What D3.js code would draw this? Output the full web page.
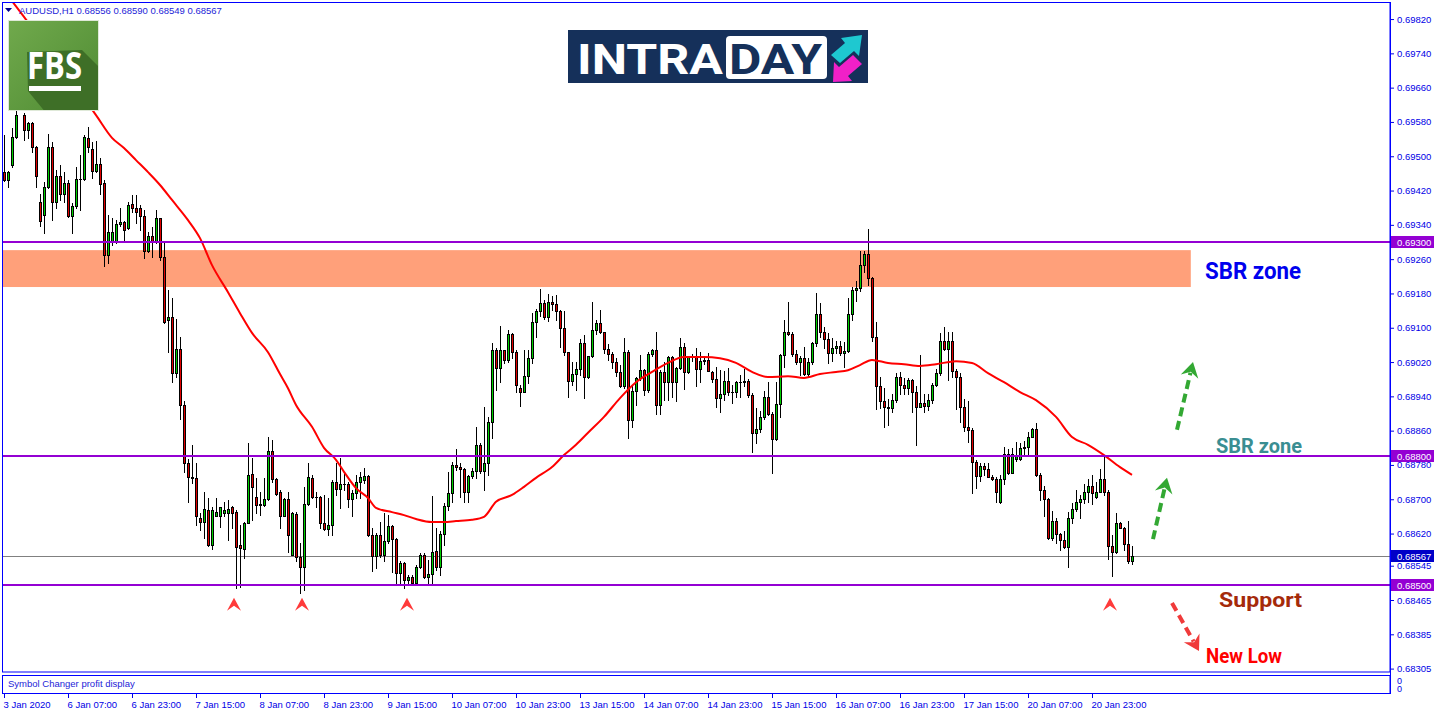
<!DOCTYPE html>
<html><head><meta charset="utf-8">
<script src="https://cdn.jsdelivr.net/npm/d3@7"></script>
<style>body{margin:0;background:#fff;}svg{display:block;}</style>
</head><body><svg id="c" width="1436" height="716"></svg>
<script>
// ---------- DATA (AUDUSD H1) ----------
const symbolTitle = "AUDUSD,H1";
const opens = [
0.69463,0.69445,0.69480,0.69544,0.69612,0.69596,0.69561,0.69577,0.69521,0.69393,
0.69363,0.69428,0.69521,0.69393,0.69454,0.69411,0.69437,0.69361,0.69384,0.69446,
0.69447,0.69542,0.69517,0.69466,0.69481,0.69437,0.69270,0.69301,0.69301,0.69342,
0.69346,0.69332,0.69388,0.69380,0.69379,0.69361,0.69278,0.69313,0.69301,0.69355,
0.69264,0.69118,0.69124,0.68994,0.69050,0.68920,0.68784,0.68753,0.68749,0.68656,
0.68648,0.68675,0.68593,0.68662,0.68662,0.68667,0.68669,0.68681,0.68671,0.68593,
0.68584,0.68645,0.68759,0.68706,0.68689,0.68687,0.68700,0.68813,0.68747,0.68716,
0.68662,0.68700,0.68570,0.68665,0.68566,0.68541,0.68688,0.68749,0.68706,0.68705,
0.68644,0.68631,0.68640,0.68741,0.68724,0.68736,0.68735,0.68700,0.68714,0.68741,
0.68745,0.68754,0.68617,0.68568,0.68617,0.68570,0.68603,0.68638,0.68607,0.68527,
0.68551,0.68512,0.68518,0.68504,0.68541,0.68570,0.68518,0.68526,0.68579,0.68541,
0.68618,0.68685,0.68714,0.68780,0.68775,0.68771,0.68716,0.68754,0.68766,0.68827,
0.68767,0.68784,0.68881,0.69048,0.69005,0.69047,0.69025,0.69086,0.69044,0.68960,
0.68951,0.68988,0.69029,0.69113,0.69139,0.69157,0.69124,0.69159,0.69156,0.69139,
0.69099,0.69044,0.68976,0.68992,0.69004,0.69064,0.68986,0.69033,0.69095,0.69110,
0.69089,0.69051,0.69038,0.69019,0.68996,0.68963,0.69043,0.68885,0.68953,0.68982,
0.69001,0.68955,0.69038,0.69047,0.68920,0.68996,0.68973,0.69031,0.68973,0.69005,
0.69054,0.68996,0.69031,0.69032,0.69003,0.69023,0.69024,0.68996,0.68980,0.68937,
0.68945,0.68976,0.68949,0.68950,0.68973,0.68974,0.68976,0.68943,0.68854,0.68864,
0.68891,0.68938,0.68898,0.68840,0.68922,0.69037,0.69089,0.69086,0.69038,0.69019,
0.69029,0.68992,0.69019,0.69064,0.69131,0.69089,0.69074,0.69042,0.69052,0.69058,
0.69040,0.69046,0.69131,0.69187,0.69192,0.69247,0.69271,0.69217,0.69079,0.68963,
0.68930,0.68914,0.68912,0.68932,0.68985,0.68967,0.68960,0.68978,0.68951,0.68916,
0.68924,0.68918,0.68932,0.68967,0.68994,0.69069,0.69051,0.69069,0.68999,0.68984,
0.68914,0.68869,0.68862,0.68788,0.68754,0.68778,0.68771,0.68753,0.68747,0.68694,
0.68747,0.68805,0.68762,0.68793,0.68794,0.68819,0.68823,0.68846,0.68863,0.68757,
0.68722,0.68700,0.68609,0.68649,0.68618,0.68604,0.68588,0.68656,0.68677,0.68693,
0.68700,0.68716,0.68731,0.68705,0.68716,0.68747,0.68718,0.68590,0.68576,0.68644,
0.68634,0.68595,0.68556];
const highs = [
0.69550,0.69466,0.69565,0.69620,0.69635,0.69600,0.69581,0.69580,0.69523,0.69411,
0.69439,0.69551,0.69534,0.69468,0.69480,0.69464,0.69445,0.69390,0.69476,0.69503,
0.69550,0.69568,0.69534,0.69536,0.69495,0.69445,0.69363,0.69355,0.69351,0.69379,
0.69349,0.69393,0.69410,0.69410,0.69386,0.69375,0.69323,0.69336,0.69375,0.69357,
0.69302,0.69188,0.69169,0.69121,0.69078,0.68928,0.68793,0.68827,0.68784,0.68667,
0.68718,0.68702,0.68683,0.68702,0.68683,0.68694,0.68698,0.68685,0.68675,0.68640,
0.68648,0.68831,0.68796,0.68749,0.68718,0.68749,0.68846,0.68838,0.68750,0.68722,
0.68702,0.68718,0.68671,0.68671,0.68597,0.68729,0.68784,0.68757,0.68718,0.68708,
0.68710,0.68702,0.68745,0.68784,0.68796,0.68761,0.68741,0.68722,0.68757,0.68764,
0.68772,0.68756,0.68634,0.68621,0.68648,0.68667,0.68663,0.68640,0.68609,0.68556,
0.68553,0.68523,0.68523,0.68547,0.68574,0.68574,0.68558,0.68708,0.68632,0.68625,
0.68691,0.68764,0.68788,0.68817,0.68784,0.68772,0.68757,0.68774,0.68869,0.68831,
0.68914,0.68893,0.69064,0.69052,0.69103,0.69048,0.69095,0.69087,0.69048,0.68967,
0.69048,0.69048,0.69134,0.69143,0.69191,0.69165,0.69178,0.69174,0.69177,0.69142,
0.69138,0.69044,0.69021,0.69021,0.69074,0.69083,0.69034,0.69159,0.69118,0.69142,
0.69091,0.69061,0.69044,0.69029,0.69013,0.69075,0.69048,0.68967,0.68986,0.69037,
0.69004,0.69044,0.69051,0.69089,0.69002,0.69021,0.69035,0.69034,0.69009,0.69075,
0.69064,0.69033,0.69038,0.69052,0.69043,0.69033,0.69042,0.68998,0.69009,0.69002,
0.68998,0.69005,0.68967,0.68976,0.68990,0.69004,0.68980,0.68947,0.68912,0.68906,
0.68953,0.68974,0.68904,0.68973,0.69038,0.69118,0.69159,0.69091,0.69048,0.69033,
0.69056,0.69029,0.69066,0.69180,0.69157,0.69101,0.69087,0.69075,0.69068,0.69068,
0.69066,0.69170,0.69194,0.69209,0.69278,0.69278,0.69330,0.69219,0.69113,0.68986,
0.68960,0.68934,0.68945,0.68994,0.68996,0.68982,0.68982,0.68980,0.68963,0.69037,
0.68945,0.68945,0.68971,0.69004,0.69087,0.69101,0.69089,0.69089,0.69004,0.68994,
0.68934,0.68929,0.68866,0.68792,0.68784,0.68784,0.68785,0.68757,0.68753,0.68757,
0.68823,0.68817,0.68819,0.68834,0.68831,0.68836,0.68856,0.68867,0.68877,0.68761,
0.68732,0.68702,0.68673,0.68656,0.68621,0.68625,0.68671,0.68691,0.68722,0.68710,
0.68735,0.68747,0.68757,0.68741,0.68771,0.68799,0.68722,0.68617,0.68667,0.68648,
0.68636,0.68649,0.68590];
const lows = [
0.69442,0.69429,0.69476,0.69542,0.69609,0.69538,0.69543,0.69509,0.69429,0.69337,
0.69320,0.69425,0.69351,0.69379,0.69398,0.69394,0.69359,0.69320,0.69379,0.69375,
0.69445,0.69511,0.69449,0.69463,0.69412,0.69243,0.69252,0.69293,0.69297,0.69338,
0.69305,0.69330,0.69369,0.69344,0.69327,0.69262,0.69276,0.69266,0.69297,0.69258,
0.69110,0.69043,0.68973,0.68986,0.68887,0.68764,0.68694,0.68737,0.68640,0.68628,
0.68609,0.68592,0.68584,0.68660,0.68636,0.68662,0.68605,0.68632,0.68492,0.68495,
0.68562,0.68644,0.68652,0.68667,0.68663,0.68685,0.68698,0.68741,0.68710,0.68632,
0.68660,0.68578,0.68569,0.68555,0.68481,0.68488,0.68687,0.68704,0.68683,0.68632,
0.68628,0.68617,0.68617,0.68710,0.68679,0.68722,0.68683,0.68660,0.68702,0.68702,
0.68737,0.68615,0.68533,0.68539,0.68566,0.68555,0.68597,0.68531,0.68500,0.68500,
0.68492,0.68504,0.68502,0.68502,0.68539,0.68516,0.68504,0.68500,0.68535,0.68523,
0.68593,0.68675,0.68694,0.68768,0.68706,0.68693,0.68693,0.68749,0.68749,0.68761,
0.68722,0.68757,0.68842,0.68955,0.68973,0.69017,0.69021,0.69029,0.68951,0.68918,
0.68951,0.68970,0.69017,0.69079,0.69128,0.69121,0.69116,0.69142,0.69118,0.69054,
0.69037,0.68939,0.68967,0.68955,0.68990,0.68937,0.68982,0.69031,0.69085,0.69087,
0.69040,0.69025,0.69005,0.68988,0.68962,0.68960,0.68842,0.68868,0.68920,0.68978,
0.68943,0.68951,0.69033,0.68898,0.68898,0.68932,0.68932,0.68939,0.68930,0.69004,
0.68957,0.68994,0.69023,0.68965,0.68974,0.69015,0.68998,0.68974,0.68914,0.68903,
0.68932,0.68943,0.68924,0.68939,0.68938,0.68963,0.68939,0.68811,0.68831,0.68856,
0.68887,0.68897,0.68762,0.68838,0.68893,0.69009,0.69083,0.69033,0.69015,0.68990,
0.68990,0.68984,0.69015,0.69058,0.69079,0.69052,0.69017,0.69023,0.69040,0.69037,
0.69009,0.69044,0.69118,0.69163,0.69186,0.69231,0.69200,0.69068,0.68911,0.68912,
0.68869,0.68873,0.68903,0.68926,0.68946,0.68945,0.68945,0.68904,0.68827,0.68914,
0.68903,0.68908,0.68924,0.68965,0.68990,0.69048,0.68978,0.68986,0.68911,0.68881,
0.68859,0.68834,0.68714,0.68727,0.68743,0.68757,0.68752,0.68746,0.68693,0.68691,
0.68735,0.68758,0.68761,0.68789,0.68792,0.68803,0.68802,0.68845,0.68755,0.68698,
0.68660,0.68607,0.68605,0.68597,0.68582,0.68587,0.68543,0.68644,0.68673,0.68656,
0.68691,0.68693,0.68688,0.68702,0.68716,0.68710,0.68561,0.68520,0.68574,0.68632,
0.68582,0.68551,0.68549];
const closes = [
0.69445,0.69463,0.69544,0.69596,0.69616,0.69561,0.69577,0.69521,0.69454,0.69348,
0.69428,0.69521,0.69393,0.69455,0.69411,0.69437,0.69361,0.69384,0.69446,0.69447,
0.69544,0.69521,0.69466,0.69481,0.69435,0.69270,0.69323,0.69324,0.69342,0.69346,
0.69327,0.69386,0.69380,0.69371,0.69361,0.69278,0.69313,0.69301,0.69355,0.69264,
0.69114,0.69124,0.68994,0.69050,0.68920,0.68784,0.68753,0.68749,0.68661,0.68648,
0.68677,0.68593,0.68675,0.68671,0.68681,0.68675,0.68677,0.68667,0.68588,0.68586,
0.68644,0.68757,0.68729,0.68687,0.68687,0.68700,0.68813,0.68747,0.68712,0.68662,
0.68700,0.68617,0.68667,0.68566,0.68541,0.68688,0.68751,0.68706,0.68705,0.68644,
0.68631,0.68640,0.68741,0.68724,0.68736,0.68735,0.68700,0.68714,0.68741,0.68751,
0.68754,0.68617,0.68568,0.68617,0.68570,0.68603,0.68638,0.68607,0.68527,0.68551,
0.68512,0.68518,0.68504,0.68541,0.68570,0.68518,0.68526,0.68576,0.68541,0.68618,
0.68685,0.68714,0.68780,0.68775,0.68771,0.68716,0.68754,0.68766,0.68827,0.68767,
0.68784,0.68881,0.69048,0.69005,0.69047,0.69025,0.69086,0.69044,0.68967,0.68951,
0.68988,0.69029,0.69113,0.69139,0.69157,0.69124,0.69159,0.69156,0.69139,0.69099,
0.69044,0.68976,0.68992,0.69004,0.69064,0.68986,0.69033,0.69095,0.69110,0.69089,
0.69051,0.69038,0.69019,0.68996,0.68963,0.69043,0.68885,0.68953,0.68982,0.69001,
0.68955,0.69038,0.69047,0.68920,0.68996,0.68973,0.69031,0.68973,0.69005,0.69054,
0.68996,0.69031,0.69032,0.69003,0.69023,0.69024,0.69000,0.68980,0.68937,0.68945,
0.68976,0.68949,0.68950,0.68973,0.68974,0.68976,0.68943,0.68854,0.68864,0.68891,
0.68938,0.68898,0.68840,0.68922,0.69037,0.69089,0.69086,0.69038,0.69021,0.69029,
0.68992,0.69019,0.69064,0.69131,0.69089,0.69074,0.69042,0.69052,0.69058,0.69040,
0.69046,0.69131,0.69187,0.69192,0.69247,0.69271,0.69217,0.69079,0.68963,0.68930,
0.68914,0.68912,0.68932,0.68985,0.68967,0.68960,0.68978,0.68951,0.68916,0.68924,
0.68918,0.68932,0.68967,0.68994,0.69069,0.69051,0.69069,0.68999,0.68984,0.68914,
0.68869,0.68862,0.68788,0.68754,0.68778,0.68771,0.68753,0.68747,0.68716,0.68747,
0.68805,0.68762,0.68805,0.68803,0.68819,0.68823,0.68846,0.68863,0.68757,0.68722,
0.68700,0.68609,0.68649,0.68618,0.68604,0.68588,0.68656,0.68677,0.68693,0.68700,
0.68716,0.68731,0.68714,0.68716,0.68747,0.68718,0.68590,0.68576,0.68644,0.68634,
0.68595,0.68556,0.68567];

// moving average (bar index, value)
const maBars = [2,5,14,23,27,30,33,36,39,42,46,49,52,56,59,62,66,69,71,73,77,80,83,85,88,91,93,97,100,103,107,110,113,117,120,123,127,130,133,137,140,143,146,150,154,158,162,166,170,175,179,183,187,191,196,200,204,208,211,214,217,221,225,229,233,238,242,246,250,254,258,263,267,271,275,279,282];
const maValues = [0.69862,0.69825,0.69713,0.69596,0.69543,0.69519,0.69491,0.69463,0.69433,0.69398,0.69351,0.69309,0.69246,0.69183,0.69134,0.69088,0.69043,0.68992,0.68959,0.68920,0.68869,0.68820,0.68792,0.68764,0.68726,0.68703,0.68680,0.68670,0.68663,0.68654,0.68647,0.68647,0.68649,0.68652,0.68659,0.68694,0.68710,0.68729,0.68750,0.68775,0.68803,0.68827,0.68855,0.68892,0.68936,0.68973,0.68997,0.69018,0.69032,0.69032,0.69029,0.69018,0.68997,0.68985,0.68987,0.68983,0.68992,0.68997,0.69001,0.69013,0.69025,0.69018,0.69015,0.69011,0.69015,0.69022,0.69018,0.68994,0.68973,0.68950,0.68931,0.68892,0.68845,0.68827,0.68803,0.68775,0.68757];

const priceTicks = [0.69820,0.69740,0.69660,0.69580,0.69500,0.69420,0.69340,0.69260,0.69180,0.69100,0.69020,0.68940,0.68860,0.68780,0.68700,0.68620,0.68545,0.68465,0.68385,0.68305];
const timeTickBars = [0,16,32,48,64,80,96,112,128,144,160,176,192,208,224,240,256,272];
const timeTickLabels = ["3 Jan 2020","6 Jan 07:00","6 Jan 23:00","7 Jan 15:00","8 Jan 07:00","8 Jan 23:00","9 Jan 15:00","10 Jan 07:00","10 Jan 23:00","13 Jan 15:00","14 Jan 07:00","14 Jan 23:00","15 Jan 15:00","16 Jan 07:00","16 Jan 23:00","17 Jan 15:00","20 Jan 07:00","20 Jan 23:00"];

const levelPrices = [0.69300, 0.68800, 0.68500];
const lastPrice = 0.68567;
const zoneTop = 0.69281, zoneBottom = 0.69195, zoneStartBar = -0.25, zoneEndBar = 296.7;
const upArrowFrom = [[293.25,0.68862],[287.25,0.68607]];
const upArrowTo   = [[297.25,0.69020],[290.75,0.68750]];
const downArrowFrom = [292.0,0.68458];
const downArrowTo   = [298.75,0.68346];
const markerBars = [57.5, 74.5, 100.75, 276.5];
const markerPrice = 0.68470;

if ([opens,highs,lows,closes].some(a=>a.length!==283) || maBars.length!==maValues.length) throw new Error("length mismatch");

// ---------- DRAW ----------
const AX = "#0000e6", FONT = "'Liberation Sans', Arial, sans-serif";
const svg = d3.select("#c");
const defs = svg.append("defs");
defs.append("clipPath").attr("id","plot").append("rect").attr("x",3).attr("y",3).attr("width",1387).attr("height",669);

const x = d3.scaleLinear().domain([0,282]).range([4,1132]);
const y = d3.scaleLinear().domain([0.68500,0.69300]).range([585,242]);

svg.append("rect").attr("width",1436).attr("height",716).attr("fill","#fff");
const g = svg.append("g").attr("clip-path","url(#plot)");

// zone
g.append("rect").attr("x",x(zoneStartBar)).attr("y",y(zoneTop))
  .attr("width",x(zoneEndBar)-x(zoneStartBar)).attr("height",y(zoneBottom)-y(zoneTop)).attr("fill","#ffa07a");

// bid line
g.append("rect").attr("x",3).attr("width",1387).attr("y",Math.round(y(lastPrice))).attr("height",1).attr("fill","#808080");

// candles
const bars = d3.range(opens.length).map(i=>({i,o:opens[i],h:highs[i],l:lows[i],c:closes[i]}));
const cx = d=>Math.round(x(d.i));
const cg = g.append("g");
cg.selectAll("rect.wick").data(bars).join("rect").attr("class","wick")
  .attr("x",d=>cx(d)).attr("width",1)
  .attr("y",d=>Math.round(y(d.h))).attr("height",d=>Math.max(1,Math.round(y(d.l))-Math.round(y(d.h))+1)).attr("fill","#000");
const bt = d=>Math.round(y(Math.max(d.o,d.c))), bb = d=>Math.round(y(Math.min(d.o,d.c)));
cg.selectAll("rect.body").data(bars).join("rect").attr("class","body")
  .attr("x",d=>cx(d)-1).attr("width",3)
  .attr("y",bt).attr("height",d=>Math.max(1,bb(d)-bt(d)+1)).attr("fill","#000");
cg.selectAll("rect.fillb").data(bars.filter(d=>bb(d)-bt(d)>=2)).join("rect").attr("class","fillb")
  .attr("x",d=>cx(d)).attr("width",1)
  .attr("y",d=>bt(d)+1).attr("height",d=>bb(d)-bt(d)-1)
  .attr("fill",d=>d.c>=d.o?"#00d000":"#e00000");

// MA
const maPts = maBars.map((b,k)=>[b,maValues[k]]);
g.append("path").datum(maPts).attr("fill","none").attr("stroke","#ff0000").attr("stroke-width",2)
  .attr("d",d3.line().x(d=>x(d[0])).y(d=>y(d[1])).curve(d3.curveMonotoneX));

// levels
g.selectAll("rect.lvl").data(levelPrices).join("rect").attr("class","lvl")
  .attr("x",3).attr("width",1387).attr("y",d=>Math.round(y(d))-1).attr("height",2).attr("fill","#9400d3");

// annotations: arrows
function dashedArrow(from,to,color){
  const x0=x(from[0]),y0=y(from[1]),x1=x(to[0]),y1=y(to[1]);
  const ang=Math.atan2(y1-y0,x1-x0), len=Math.hypot(x1-x0,y1-y0);
  const ag=svg.append("g").attr("transform",`translate(${x0},${y0}) rotate(${ang*180/Math.PI})`);
  ag.append("line").attr("x1",0).attr("y1",0).attr("x2",len-11).attr("y2",0)
    .attr("stroke",color).attr("stroke-width",4).attr("stroke-dasharray","9,5");
  ag.append("path").attr("d",`M${len},0 L${len-15},-9 L${len-10},0 L${len-15},9 Z`).attr("fill",color);
}
upArrowFrom.forEach((f,k)=>dashedArrow(f,upArrowTo[k],"#33a833"));
dashedArrow(downArrowFrom,downArrowTo,"#f03a3a");
svg.selectAll("path.mk").data(markerBars).join("path").attr("class","mk")
  .attr("transform",d=>`translate(${x(d)},${y(markerPrice)})`)
  .attr("d","M0,0 L7,13 L0,8 L-7,13 Z").attr("fill","#ff3a3a");

// annotation texts
const ann = [
 {t:"SBR zone", x:1205, y:279, s:24, w:96, c:"#0000ee"},
 {t:"SBR zone", x:1216, y:453, s:20, w:86, c:"#3a8e92"},
 {t:"Support",  x:1219, y:607, s:20, w:83, c:"#a52a0a"},
 {t:"New Low",  x:1206, y:663, s:20, w:76, c:"#ff0000"}];
svg.selectAll("text.ann").data(ann).join("text").attr("class","ann")
  .attr("x",d=>d.x).attr("y",d=>d.y).attr("font-size",d=>d.s).attr("textLength",d=>d.w)
  .attr("lengthAdjust","spacingAndGlyphs").attr("fill",d=>d.c)
  .attr("font-family","Roboto, 'Open Sans', sans-serif").attr("font-weight",700).text(d=>d.t);

// FBS logo
const lg = defs.append("linearGradient").attr("id","fbsg").attr("x1",0).attr("y1",0).attr("x2",1).attr("y2",1);
lg.append("stop").attr("offset",0).attr("stop-color","#70a94c");
lg.append("stop").attr("offset",1).attr("stop-color","#4f8b33");
defs.append("clipPath").attr("id","fbsclip").append("rect").attr("x",9).attr("y",21).attr("width",89).attr("height",89);
const fb = svg.append("g");
fb.append("rect").attr("x",8).attr("y",20).attr("width",91).attr("height",91).attr("fill","#dfe9d8");
fb.append("rect").attr("x",9).attr("y",21).attr("width",89).attr("height",89).attr("fill","url(#fbsg)");
fb.append("path").attr("clip-path","url(#fbsclip)")
  .attr("d","M27,52 L82,50 L120,88 L120,130 L60,130 L28,91 Z").attr("fill","#3e6f27");
fb.append("text").attr("x",27).attr("y",79).attr("font-size",38).attr("font-weight",700)
  .attr("font-family","'Open Sans', Roboto, sans-serif").attr("textLength",55).attr("lengthAdjust","spacingAndGlyphs")
  .attr("fill","#fff").text("FBS");
fb.append("rect").attr("x",29).attr("y",86).attr("width",52).attr("height",5).attr("fill","#fff");

// INTRADAY logo
const il = svg.append("g");
il.append("rect").attr("x",568).attr("y",30).attr("width",300).attr("height",53).attr("fill","#15305a");
il.append("text").attr("x",577).attr("y",74).attr("font-size",43).attr("font-weight",700)
  .attr("font-family","Roboto, sans-serif").attr("textLength",146).attr("lengthAdjust","spacingAndGlyphs")
  .attr("fill","#fff").text("INTRA");
il.append("rect").attr("x",726).attr("y",36).attr("width",101).attr("height",43).attr("rx",4).attr("fill","#fff");
il.append("text").attr("x",729).attr("y",74).attr("font-size",43).attr("font-weight",700)
  .attr("font-family","Roboto, sans-serif").attr("textLength",93).attr("lengthAdjust","spacingAndGlyphs")
  .attr("fill","#15305a").text("DAY");
il.append("path").attr("d","M831,55 L845,43 L841,38 L862,35 L859,56 L854,51 L840,63 Z").attr("fill","#1ec8d0");
il.append("path").attr("d","M862,64 L848,76 L852,81 L833,82 L834,62 L839,67 L853,55 Z").attr("fill","#f020c8");

// header
svg.append("path").attr("d","M5,8 L12,8 L8.5,12 Z").attr("fill","#00008b");
svg.append("text").attr("x",19).attr("y",14).attr("font-size",9.5).attr("font-family",FONT).attr("fill","#2424d8")
  .text(symbolTitle+"  "+[opens[282],highs[282],lows[282],closes[282]].map(d3.format(".5f")).join(" "));

// frames
svg.append("rect").attr("x",2.5).attr("y",2.5).attr("width",1387.5).attr("height",669.5).attr("fill","none").attr("stroke","#0000ff");
svg.append("rect").attr("x",2.5).attr("y",675.5).attr("width",1387.5).attr("height",18).attr("fill","none").attr("stroke","#0000ff");
svg.append("text").attr("x",8).attr("y",687).attr("font-size",9.5).attr("font-family",FONT).attr("fill","#2424d8").text("Symbol Changer profit display");

// right axis
const ya = svg.append("g").attr("transform","translate(1390,0)")
  .call(d3.axisRight(y).tickValues(priceTicks).tickSize(4).tickPadding(3).tickFormat(d3.format(".5f")));
ya.select(".domain").remove();
ya.selectAll("line").attr("stroke",AX);
ya.selectAll("text").attr("fill",AX).attr("font-size",9.5).attr("font-family",FONT);

// level labels
const lab = svg.selectAll("g.lab").data(levelPrices.map(p=>({p,c:"#9400d3"})).concat([{p:lastPrice,c:"#0000c8"}]))
  .join("g").attr("class","lab").attr("transform",d=>`translate(1391,${Math.round(y(d.p))})`);
lab.append("rect").attr("x",0).attr("y",-6).attr("width",43).attr("height",12).attr("fill",d=>d.c);
lab.append("text").attr("x",6).attr("y",3.5).attr("font-size",9.5).attr("font-family",FONT).attr("fill","#fff").text(d=>d3.format(".5f")(d.p));

// bottom axis
const xa = svg.append("g").attr("transform","translate(0,694)")
  .call(d3.axisBottom(x).tickValues(timeTickBars).tickSize(4).tickPadding(3).tickFormat((d,k)=>timeTickLabels[k]));
xa.select(".domain").remove();
xa.selectAll("line").attr("stroke",AX);
xa.selectAll("text").attr("fill",AX).attr("font-size",9.5).attr("font-family",FONT).attr("text-anchor","start").attr("x",-1);

// right axis line + sub-window scale
svg.append("rect").attr("x",1390).attr("y",2).attr("width",1).attr("height",692).attr("fill","#0000ff");
const sub = svg.append("text").attr("font-size",9).attr("font-family",FONT).attr("fill",AX);
sub.append("tspan").attr("x",1397).attr("y",684).text("0");
sub.append("tspan").attr("x",1397).attr("y",692).text("0");
</script></body></html>
